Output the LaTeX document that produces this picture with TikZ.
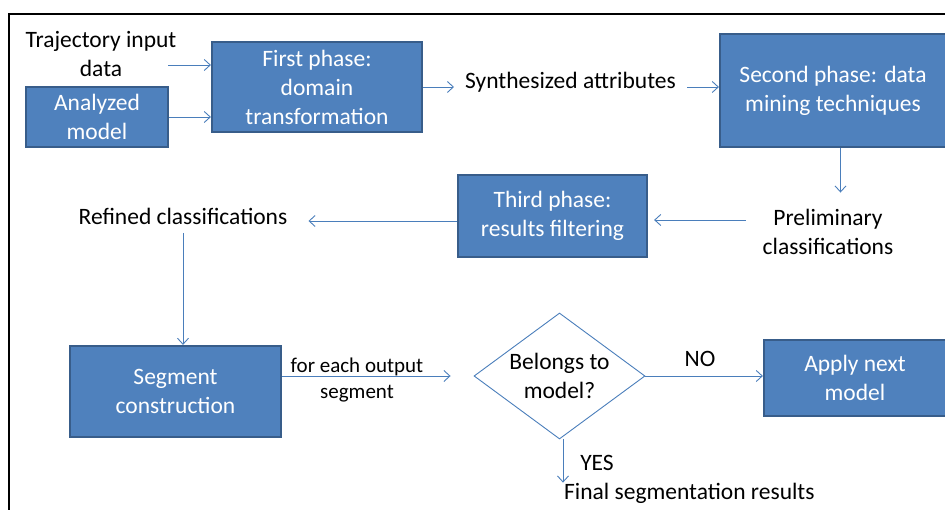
\documentclass[tikz,border=0pt]{standalone}
\usepackage{fontspec}
\setmainfont{Carlito}
\usetikzlibrary{shapes.geometric}
\usetikzlibrary{arrows,arrows.meta}
\usetikzlibrary{calc}
\definecolor{pfeilblau}{RGB}{74,126,187}
\definecolor{kastenblau}{RGB}{79,129,189}
\definecolor{kastenrand}{RGB}{56,93,138}
\newcommand{\schrift}{\fontsize{23.5pt}{29pt}\selectfont}
\newcommand{\kleinschrift}{\fontsize{21pt}{26pt}\selectfont}

\begin{document}
\begin{tikzpicture}[x=1pt, y=-1pt,
    every node/.style={font=\schrift, align=center},
    kasten/.style={draw=kastenrand, fill=kastenblau, line width=2.2pt, text=white, inner sep=0pt},
    frage/.style={diamond, draw=pfeilblau, line width=0.9pt, inner sep=0pt, aspect=1.36, minimum width=171pt, minimum height=126pt},
    verbindung/.style={pfeilblau, line width=0.9pt, -{Straight Barb[length=6pt,width=11pt]}}]

    \useasboundingbox (0,0) rectangle (945,510);
    \draw[black, line width=2.4pt] (9,510) -- (9,14) -- (945,14);

    \node (traj) at (101,54) {Trajectory input\\data};
    \node[kasten, minimum width=142pt, minimum height=60pt] (model) at (97,117) {Analyzed\\model};
    \node[kasten, minimum width=210pt, minimum height=90pt] (first) at (317,87) {First phase:\\domain\\transformation};
    \node[inner xsep=11pt] (synth) at (570.5,82) {Synthesized attributes};
    \node[kasten, minimum width=226pt, minimum height=113pt] (second) at (833,90.5) {Second phase: data\\mining techniques};
    \node[inner xsep=17pt, inner ysep=16pt] (prelim) at (828,231.5) {Preliminary\\classifications};
    \node[kasten, minimum width=189pt, minimum height=82pt] (third) at (552.5,216) {Third phase:\\results filtering};
    \node[inner xsep=21pt, inner ysep=8.5pt] (refined) at (183,216) {Refined classifications};
    \node[kasten, minimum width=211pt, minimum height=91pt] (seg) at (175.5,391.5) {Segment\\construction};
    \node[font=\kleinschrift] (each) at (357,380) {for each output\\segment};
    \node[frage] (dia) at (559.5,376) {Belongs to\\model?};
    \node (no) at (700,359) {NO};
    \node[kasten, minimum width=182pt, minimum height=76pt] (apply) at (855,378) {Apply next\\model};
    \node (yes) at (597,463) {YES};
    \node[anchor=west, inner sep=0pt] (final) at (564,493) {Final segmentation results};

    \coordinate (trajende) at (168,65);
    \draw[verbindung] (trajende) -- (first.west |- trajende);
    \draw[verbindung] (model.east) -- (first.west |- model.east);
    \draw[verbindung] (first.east) -- (first.east -| synth.west);
    \draw[verbindung] (synth.east |- first.east) -- (second.west |- first.east);
    \draw[verbindung] ([xshift=7.5pt]second.south) -- ([xshift=7.5pt]second.south |- prelim.north);
    \draw[verbindung, shorten >=6pt] ([yshift=-4pt]third.east -| prelim.west) -- ([yshift=-4pt]third.east);
    \draw[verbindung] ([yshift=-5pt]third.west) -- ([yshift=-5pt]third.west -| refined.east);
    \draw[verbindung] (refined.south) -- (refined.south |- seg.north);
    \draw[verbindung, shorten >=23pt] (seg.east |- dia.west) -- (dia.west);
    \draw[verbindung] (dia.east) -- (dia.east -| apply.west);
    \draw[verbindung] ([xshift=3.5pt]dia.south) -- ([xshift=3.5pt]dia.south |- final.north);

\end{tikzpicture}
\end{document}
